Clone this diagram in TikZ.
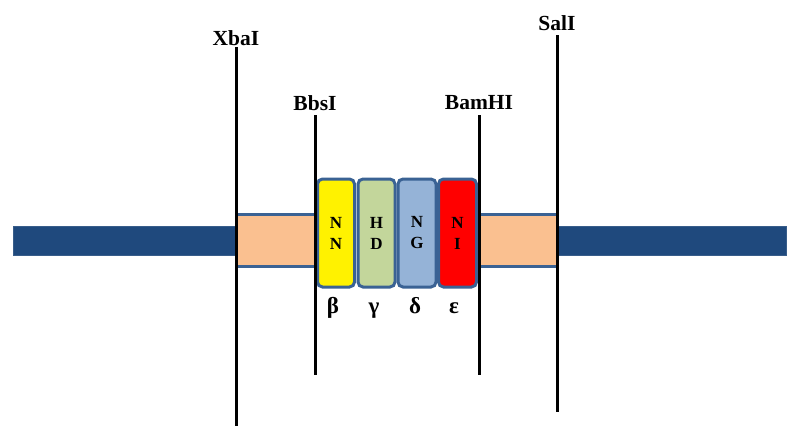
\documentclass[tikz,border=0pt]{standalone}
\usepackage{fontspec}
\setmainfont{Liberation Serif}
\begin{document}
\begin{tikzpicture}[x=1pt,y=-1pt,
  bar/.style={fill=dnavy,draw=dnavyb,line width=1pt},
  ins/.style={fill=peach,draw=none},
  edge/.style={draw=bord,line width=3.5pt},
  site/.style={line width=3pt,draw=black},
  lbl/.style={font=\bfseries\fontsize{21.5}{23}\selectfont,inner sep=0pt},
  rvd/.style={draw=bord,line width=3pt,rounded corners=5pt,font=\bfseries\fontsize{17}{21}\selectfont,align=center,inner sep=0pt},
  gr/.style={font=\bfseries\fontsize{23}{25}\selectfont,inner sep=0pt}]
\definecolor{dnavy}{HTML}{1F497D}
\definecolor{dnavyb}{HTML}{385D8A}
\definecolor{peach}{HTML}{FAC090}
\definecolor{bord}{HTML}{3A6294}
\definecolor{vgreen}{HTML}{C3D69B}
\definecolor{vblue}{HTML}{95B3D7}
\useasboundingbox (0,0) rectangle (800,440);
% backbone
\path[bar] (13,226) rectangle (236,255);
\path[bar] (556,226) rectangle (786,255);
% insert flanks
\path[ins] (236,213) rectangle (315,268);
\path[ins] (479,213) rectangle (556,268);
\draw[edge] (236,214.5) -- (315,214.5) (236,266.5) -- (315,266.5);
\draw[edge] (479,214.5) -- (556,214.5) (479,266.5) -- (556,266.5);
% RVD boxes
\node[rvd,fill=yellow,minimum width=37pt,minimum height=108pt] (b1) at (336,233) {N\\N};
\node[rvd,fill=vgreen,minimum width=37pt,minimum height=108pt] (b2) at (376.5,233) {H\\D};
\node[rvd,fill=vblue,minimum width=38pt,minimum height=108pt] (b3) at (417,233) {N\\G};
\node[rvd,fill=red,minimum width=38pt,minimum height=108pt] (b4) at (457.5,233) {N\\I};
% sites
\coordinate (x1) at (236,47); \coordinate (x2) at (236,426);
\coordinate (bb1) at (315,115); \coordinate (bb2) at (315,375);
\coordinate (bm1) at (479,115); \coordinate (bm2) at (479,375);
\coordinate (s1) at (557,35); \coordinate (s2) at (557,412);
\draw[site] (x1) -- (x2);
\draw[site] (bb1) -- (bb2);
\draw[site] (bm1) -- (bm2);
\draw[site] (s1) -- (s2);
\node[lbl] (lx) at (236,38) {XbaI};
\node[lbl] (lbb) at (315,103) {BbsI};
\node[lbl] (lbm) at (479,103) {BamHI};
\node[lbl] (ls) at (557,23) {SalI};
% greek
\node[gr,anchor=base] (g1) at (333,313) {β};
\node[gr,anchor=base] (g2) at (374,313) {γ};
\node[gr,anchor=base] (g3) at (415,313) {δ};
\node[gr,anchor=base] (g4) at (454,313) {ε};
\end{tikzpicture}
\end{document}
